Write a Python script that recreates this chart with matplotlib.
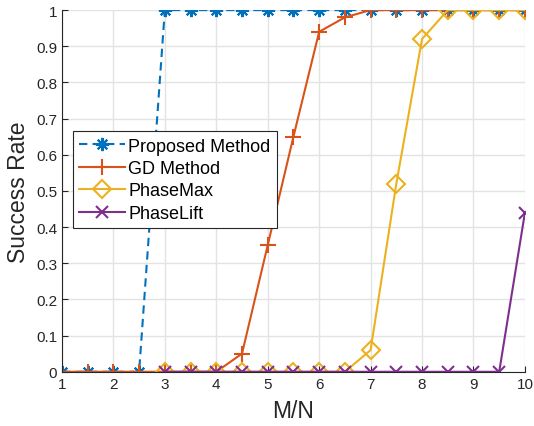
import matplotlib.pyplot as plt

# M/N values
mn_all = [1, 1.5, 2, 2.5, 3, 3.5, 4, 4.5, 5, 5.5, 6, 6.5, 7, 7.5, 8, 8.5, 9, 9.5, 10]
mn_late = mn_all[4:]

proposed = [0, 0, 0, 0, 1, 1, 1, 1, 1, 1, 1, 1, 1, 1, 1, 1, 1, 1, 1]
gd = [0, 0, 0, 0, 0, 0, 0, 0.05, 0.35, 0.65, 0.94, 0.98, 1, 1, 1, 1, 1, 1, 1]
phasemax = [0, 0, 0, 0, 0, 0, 0, 0, 0.06, 0.52, 0.92, 1, 1, 1, 1]
phaselift = [0, 0, 0, 0, 0, 0, 0, 0, 0, 0, 0, 0, 0, 0, 0.44]

plt.rcParams['font.family'] = ['Liberation Sans', 'DejaVu Sans']

fig = plt.figure(figsize=(5.34, 4.27), dpi=100)
ax = fig.add_axes([0.116, 0.127, 0.867, 0.847])

# MATLAB-like asterisk marker (8 spokes)
asterisk = (8, 2, 0)

ax.plot(mn_all, proposed, color='#0072BD', linestyle=(0, (4, 2.5)), marker=asterisk,
        markersize=9.5, linewidth=1.5, markeredgewidth=1.5, label='Proposed Method')
ax.plot(mn_all, gd, '-', color='#D95319', marker='+', markersize=12,
        linewidth=1.5, markeredgewidth=1.5, label='GD Method')
ax.plot(mn_late, phasemax, '-', color='#EDB120', marker='D', markersize=9,
        markerfacecolor='none', linewidth=1.5, markeredgewidth=1.5, label='PhaseMax')
ax.plot(mn_late, phaselift, '-', color='#7E2F8E', marker='x', markersize=8,
        linewidth=1.5, markeredgewidth=1.5, label='PhaseLift')

ax.set_xlim(1, 10)
ax.set_ylim(0, 1)
ax.set_xticks(range(1, 11))
ax.set_yticks([i / 10 for i in range(11)])
ax.set_yticklabels(['0', '0.1', '0.2', '0.3', '0.4', '0.5', '0.6', '0.7', '0.8', '0.9', '1'])
ax.grid(True, color='#e3e3e3', linewidth=1)
ax.set_axisbelow(True)
ax.spines['top'].set_visible(False)
ax.spines['right'].set_visible(False)
ax.spines['left'].set_color('#262626')
ax.spines['bottom'].set_color('#262626')
ax.tick_params(direction='in', labelsize=11, colors='#262626', length=4)

ax.set_xlabel('M/N', fontsize=16.5, color='#262626', labelpad=6)
ax.set_ylabel('Success Rate', fontsize=16.5, color='#262626', labelpad=4)

leg = ax.legend(loc='upper left', bbox_to_anchor=(0.024, 0.665), fontsize=13,
                fancybox=False, edgecolor='#262626', framealpha=1,
                handlelength=2.5, handletextpad=0.2, borderpad=0.35, labelspacing=0.3,
                borderaxespad=0)
leg.get_frame().set_linewidth(0.8)

fig.savefig('out.png', dpi=100)
